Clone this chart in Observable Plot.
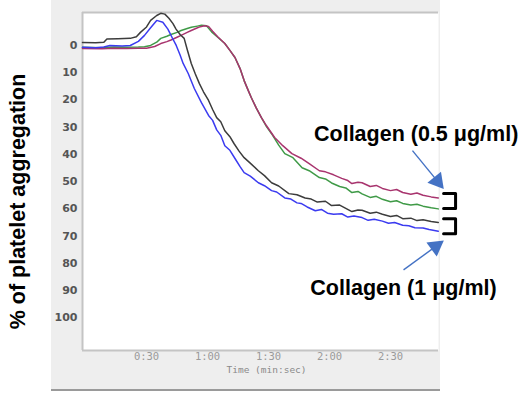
<!DOCTYPE html>
<html>
<head>
<meta charset="utf-8">
<script src="https://cdn.jsdelivr.net/npm/d3@7"></script>
<script src="https://cdn.jsdelivr.net/npm/@observablehq/plot@0.6"></script>
<style>
  html, body { margin: 0; padding: 0; background: #fff; }
  #wrap { position: relative; width: 522px; height: 393px; overflow: hidden; }
  #panel { position: absolute; left: 51px; top: 0; width: 389px; height: 389px; background: #eeeeee; border-bottom: 2px solid #9a9a9a; }
  #chart { position: absolute; left: 0; top: 0; }
</style>
</head>
<body>
<div id="wrap"><div id="panel"></div><div id="chart"></div></div>
<script>
// ---- data (time in seconds, value in % aggregation) ----
const xTickValues = [30, 60, 90, 120, 150];
const xTickLabels = ["0:30", "1:00", "1:30", "2:00", "2:30"];
const yTickValues = [0, 10, 20, 30, 40, 50, 60, 70, 80, 90, 100];
const yTitle = "% of platelet aggregation";
const xTitle = "Time (min:sec)";

const blackT = [-1.5, 5, 9, 10.5, 16, 22, 25, 27, 30, 32, 35, 37, 39, 41, 43, 44.5, 46.5, 48.5, 50, 52, 54, 56, 58, 60.5, 62.5, 64.5, 66.5, 68.5, 71, 73, 75.5, 78, 81, 85, 88, 91.5, 95, 100, 104, 108, 111, 114, 118, 121, 125, 128, 131, 134, 136, 140, 143, 146, 150, 153, 156, 160, 163, 166, 170, 173.5];
const blackV = [-1.1, -1.0, -1.2, -2.4, -2.5, -2.6, -3.2, -4.8, -6.8, -9.2, -11.0, -11.8, -11.5, -10.0, -8.0, -6.0, -4.0, -2.6, 1.5, 6.6, 10.5, 14.0, 17.0, 20.2, 23.5, 26.5, 28.0, 31.3, 33.5, 36.0, 38.8, 41.2, 43.2, 46.0, 47.8, 50.4, 51.6, 54.4, 54.8, 56.0, 56.4, 57.5, 57.2, 58.8, 58.6, 59.8, 61.0, 60.4, 60.5, 61.6, 61.2, 62.0, 62.8, 62.4, 63.6, 63.4, 64.3, 64.0, 64.6, 65.0];

const blueT = [-1.5, 5, 9, 12, 18, 22, 26, 29, 32, 35, 38, 40.5, 42.5, 44.6, 46.5, 48, 50.5, 53.5, 57, 60.5, 62.5, 64.5, 66.5, 68.5, 71, 73.5, 76, 78, 81, 85, 88, 91.5, 94, 98, 101, 104, 106, 109, 113, 116, 119, 122, 126, 129, 132, 136, 139, 142, 146, 149, 152, 156, 159, 162, 166, 169, 173.5];
const blueV = [0.7, 0.8, 0.6, 0.0, 0.2, 0.0, -1.5, -3.7, -6.5, -9.2, -8.5, -6.0, -3.0, 0.0, 3.5, 6.6, 10.3, 15.8, 21.0, 25.7, 27.5, 31.0, 33.0, 36.8, 38.5, 41.5, 44.5, 46.7, 48.0, 50.4, 51.5, 53.3, 53.8, 56.0, 56.4, 57.8, 58.0, 59.3, 60.7, 60.2, 61.6, 62.0, 61.8, 63.0, 62.6, 63.2, 64.2, 63.8, 64.5, 65.3, 65.0, 66.0, 66.2, 66.9, 67.0, 67.6, 68.2];

const greenT = [-1.5, 8, 14, 20, 26, 29, 32, 35, 37, 40, 42, 45, 47, 50, 52, 55, 57, 59.5, 62, 65, 68.5, 71, 73.5, 76, 78, 80, 81.5, 84, 86.5, 89, 91.5, 95, 98, 102, 106.5, 110, 115, 118, 121, 125, 128, 131, 134, 136, 140, 143, 146, 150, 153, 156, 160, 163, 166, 170, 173.5];
const greenV = [0.7, 0.8, 0.6, 0.7, 0.6, 0.5, 0.0, -1.2, -2.6, -3.4, -4.0, -4.8, -5.5, -6.2, -6.7, -7.1, -7.4, -7.2, -5.0, -3.0, -0.7, 1.8, 4.4, 8.5, 12.9, 16.5, 19.1, 23.0, 26.5, 29.8, 32.4, 36.6, 39.7, 41.2, 44.9, 46.0, 48.5, 49.0, 50.5, 51.8, 52.3, 54.0, 53.6, 54.5, 55.8, 55.4, 56.5, 57.4, 57.0, 58.0, 58.6, 58.3, 59.0, 59.6, 60.0];

const magentaT = [-1.5, 8, 14, 20, 26, 30, 34, 37, 40, 42, 45, 47, 50, 52, 54.5, 56.5, 58.5, 60.5, 62.5, 65, 68.5, 71, 73.5, 76, 78, 80, 81.5, 84, 86.5, 89, 93, 97, 101.5, 106, 110, 115, 118, 122, 126, 129, 131, 134, 136, 140, 143, 146, 150, 153, 156, 160, 163, 166, 170, 173.5];
const magentaV = [1.1, 1.2, 1.0, 1.1, 1.0, 1.0, 0.4, -0.7, -1.4, -2.0, -3.0, -3.7, -4.8, -5.5, -6.3, -6.9, -7.2, -7.0, -5.2, -3.2, -0.7, 1.8, 4.4, 8.5, 12.9, 16.5, 19.1, 23.0, 26.5, 29.5, 33.8, 36.8, 39.7, 41.4, 43.4, 46.0, 46.4, 47.5, 48.8, 49.6, 50.7, 50.2, 50.4, 51.8, 51.4, 52.5, 53.3, 52.9, 54.0, 54.6, 54.2, 55.0, 55.6, 56.0];

const seriesNames = ["Trace A", "Trace B", "Trace C", "Trace D"];
const seriesColors = ["#3f9a47", "#a8346e", "#3c3c3c", "#3b3bf0"];

// annotations (data coordinates)
const annoLabels = ["Collagen (0.5 μg/ml)", "Collagen (1 μg/ml)"];
const annoTextT = [162.6, 156.4];
const annoTextV = [32.4, 89.0];
const arrowTailT = [160.8, 156.4];
const arrowTailV = [38.6, 82.4];
const arrowTipT = [176.1, 176.1];
const arrowTipV = [52.6, 71.7];
const bracketLeftT = [176.1, 176.1];
const bracketRightT = [182.0, 182.0];
const bracketTopV = [54.4, 63.6];
const bracketBottomV = [59.9, 69.1];

// ---- build ----
const width = 522, height = 393;
const mL = 82, mR = 84, mT = 12, mB = 43;
const xDomain = [-1.5, 173.6];
const yDomain = [-12.1, 112];
const kx = (width - mL - mR) / (xDomain[1] - xDomain[0]);
const ky = (height - mT - mB) / (yDomain[1] - yDomain[0]);

const tables = [
  [greenT, greenV], [magentaT, magentaV], [blackT, blackV], [blueT, blueV]
];
const rows = [];
tables.forEach(([T, V], i) => T.forEach((t, j) => rows.push({t, v: V[j], s: seriesNames[i]})));

const arrows = annoLabels.map((_, i) => {
  const dxp = (arrowTipT[i] - arrowTailT[i]) * kx;
  const dyp = (arrowTipV[i] - arrowTailV[i]) * ky;
  const len = Math.hypot(dxp, dyp);
  const ux = dxp / len, uy = dyp / len;
  const headH = 15, cen = 9.8;
  return {
    t1: arrowTailT[i], v1: arrowTailV[i],
    t2: arrowTipT[i] - ux * (headH - 2) / kx, v2: arrowTipV[i] - uy * (headH - 2) / ky,
    ht: arrowTipT[i] - ux * cen / kx, hv: arrowTipV[i] - uy * cen / ky,
    rot: Math.atan2(ux, -uy) * 180 / Math.PI
  };
});

const brackets = [];
bracketLeftT.forEach((l, i) => {
  brackets.push({b: i, t: l, v: bracketTopV[i]});
  brackets.push({b: i, t: bracketRightT[i], v: bracketTopV[i]});
  brackets.push({b: i, t: bracketRightT[i], v: bracketBottomV[i]});
  brackets.push({b: i, t: l, v: bracketBottomV[i]});
});

const chart = Plot.plot({
  width, height,
  marginLeft: mL, marginRight: mR, marginTop: mT, marginBottom: mB,
  style: {background: "transparent", overflow: "visible"},
  x: {domain: xDomain},
  y: {domain: yDomain, reverse: true},
  color: {domain: seriesNames, range: seriesColors},
  marks: [
    Plot.frame({fill: "white", stroke: null}),
    Plot.ruleY([yDomain[0], yDomain[1]], {stroke: "#c4c4c4", strokeWidth: 2}),
    Plot.ruleX([xDomain[0]], {stroke: "#c4c4c4", strokeWidth: 2}),
    Plot.axisY(yTickValues, {tickSize: 0, tickPadding: 5, fontSize: 11, fontWeight: "bold", fill: "#555", fontFamily: "DejaVu Sans", label: null}),
    Plot.axisX(xTickValues, {tickSize: 0, tickPadding: 2, tickFormat: d => xTickLabels[xTickValues.indexOf(d)], fontSize: 10.5, fill: "#9a9a9a", fontFamily: "DejaVu Sans Mono", label: null}),
    Plot.text([xTitle], {frameAnchor: "bottom", lineAnchor: "middle", text: d => d, dy: 19, dx: 6, fontSize: 9.5, fill: "#8a8a8a", fontFamily: "DejaVu Sans Mono"}),
    Plot.text([yTitle], {frameAnchor: "left", textAnchor: "middle", lineAnchor: "middle", text: d => d, rotate: -90, dx: -64, dy: 20, fontSize: 21.5, fontWeight: "bold", fill: "#000", fontFamily: "Liberation Sans, Arial, sans-serif"}),
    Plot.line(rows, {x: "t", y: "v", z: "s", stroke: "s", strokeWidth: 1.5, curve: "linear"}),
    Plot.line(brackets, {x: "t", y: "v", z: "b", stroke: "#000", strokeWidth: 3}),
    Plot.link(arrows, {x1: "t1", y1: "v1", x2: "t2", y2: "v2", stroke: "#4472c4", strokeWidth: 1.4}),
    Plot.dot(arrows, {x: "ht", y: "hv", symbol: "triangle", r: 6.5, rotate: "rot", fill: "#4472c4", stroke: null}),
    Plot.text(annoLabels, {x: (d, i) => annoTextT[i], y: (d, i) => annoTextV[i], text: d => d, fontSize: 21.5, fontWeight: "bold", fill: "#000", fontFamily: "Liberation Sans, Arial, sans-serif"})
  ]
});
document.getElementById("chart").appendChild(chart);
</script>
</body>
</html>
